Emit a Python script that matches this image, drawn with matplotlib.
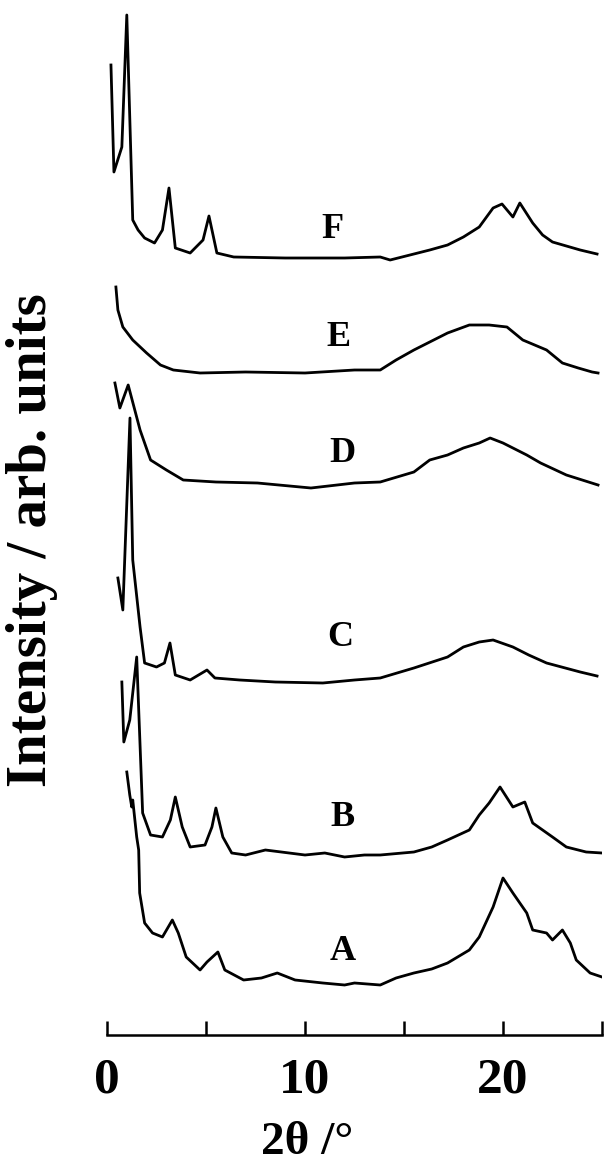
import matplotlib.pyplot as plt

# XRD patterns (2theta in deg, intensity in arb. units incl. stacking offset)
tt_A = [1.0, 1.15, 1.25, 1.3, 1.5, 1.6, 1.65, 1.9, 2.3, 2.8, 3.3, 3.6, 4.0, 4.7, 5.05, 5.6, 5.95, 6.9,
        7.8, 8.6, 9.5, 10.9, 12.0, 12.5, 13.8, 14.6, 15.5, 16.4, 17.2, 18.3, 18.8, 19.5, 20.0, 20.5,
        21.2, 21.5, 22.2, 22.5, 23.0, 23.4, 23.7, 24.4, 25.0]
int_A = [263, 240, 228, 235, 198, 185, 142, 112, 102, 98, 115, 102, 78, 65, 73, 83, 65, 55,
         57, 62, 55, 52, 50, 52, 50, 57, 62, 66, 72, 85, 98, 128, 157, 142,
         122, 105, 102, 95, 105, 92, 75, 62, 58]

tt_B = [0.75, 0.85, 1.15, 1.5, 1.8, 2.2, 2.8, 3.2, 3.45, 3.8, 4.2, 4.95, 5.3, 5.5, 5.85, 6.3,
        7.0, 8.0, 9.2, 10.0, 11.0, 12.0, 13.0, 13.8, 15.5, 16.4, 17.2, 18.3, 18.8, 19.3, 19.85,
        20.5, 21.1, 21.5, 22.5, 23.2, 24.2, 25.0]
int_B = [353, 293, 315, 378, 222, 200, 198, 215, 238, 208, 188, 190, 208, 227, 198, 182,
         180, 185, 182, 180, 182, 178, 180, 180, 183, 188, 195, 205, 220, 232, 248,
         228, 233, 212, 198, 188, 183, 182]

tt_C = [0.55, 0.8, 1.16, 1.3, 1.67, 1.9, 2.5, 2.9, 3.18, 3.45, 4.2, 5.05, 5.45, 6.7,
        8.5, 10.9, 12.5, 13.8, 15.5, 17.2, 18.0, 18.8, 19.5, 20.5, 21.3, 22.2, 23.9, 24.75]
int_C = [457, 425, 617, 475, 408, 372, 368, 372, 392, 360, 355, 365, 357, 355,
         353, 352, 355, 357, 367, 378, 388, 393, 395, 388, 380, 372, 363, 359]

tt_D = [0.4, 0.65, 1.07, 1.67, 2.2, 3.0, 3.85, 5.5, 7.6, 10.3, 12.5, 13.8, 15.5, 16.3,
        17.2, 18.0, 18.8, 19.35, 20.0, 20.5, 21.2, 21.9, 23.2, 24.8]
int_D = [652, 627, 650, 605, 575, 565, 555, 553, 552, 547, 552, 553, 563, 575,
         580, 587, 592, 597, 592, 587, 580, 572, 560, 550]

tt_E = [0.45, 0.55, 0.8, 1.3, 2.0, 2.7, 3.35, 4.7, 7.0, 10.0, 12.5, 13.8, 14.6, 15.5, 16.4,
        17.2, 18.3, 19.3, 20.2, 21.0, 21.6, 22.2, 23.0, 23.8, 24.5, 24.8]
int_E = [748, 725, 708, 695, 682, 670, 665, 662, 663, 662, 665, 665, 675, 685, 694,
         702, 710, 710, 708, 695, 690, 685, 672, 667, 663, 662]

tt_F = [0.2, 0.35, 0.75, 1.0, 1.3, 1.57, 1.9, 2.4, 2.8, 3.13, 3.45, 4.2, 4.85, 5.15, 5.55,
        6.4, 9.0, 12.0, 13.8, 14.3, 15.3, 16.3, 17.2, 18.0, 18.8, 19.5, 19.95, 20.5, 20.85,
        21.5, 22.0, 22.5, 23.2, 23.9, 24.75]
int_F = [970, 863, 888, 1020, 815, 805, 797, 792, 805, 847, 787, 782, 795, 819, 782,
         778, 777, 777, 778, 775, 780, 785, 790, 798, 808, 827, 831, 818, 832,
         812, 800, 793, 789, 785, 781]

labels = ['A', 'B', 'C', 'D', 'E', 'F']
label_tt = [11.9, 11.9, 11.8, 11.9, 11.7, 11.4]
label_int = [83, 218, 398, 582, 698, 805]

serif = 'Liberation Serif'

fig = plt.figure(figsize=(6.04, 11.73), dpi=100)
ax = fig.add_axes([107 / 604, 138 / 1173, 495 / 604, 1 - 138 / 1173])

for tt, inten in [(tt_A, int_A), (tt_B, int_B), (tt_C, int_C),
                  (tt_D, int_D), (tt_E, int_E), (tt_F, int_F)]:
    ax.plot(tt, inten, color='black', linewidth=2.0)

for lab, x, y in zip(labels, label_tt, label_int):
    ax.text(x, y, lab, fontsize=26, fontweight='bold', family=serif,
            ha='center', va='center')

ax.set_xlim(0, 25)
ax.set_ylim(0, 1035)
ax.set_xticks([0, 5, 10, 15, 20, 25])
ax.set_xticklabels(['0', '', '10', '', '20', ''])
ax.set_yticks([])
for side in ['left', 'right', 'top']:
    ax.spines[side].set_visible(False)
ax.spines['bottom'].set_linewidth(1.8)
ax.tick_params(axis='x', direction='in', length=10, width=1.8, pad=16)
for t in ax.get_xticklabels():
    t.set_fontsize(37)
    t.set_fontweight('bold')
    t.set_family(serif)

fig.text(307 / 604, 1 - 1143 / 1173, '2θ /°', fontsize=34, fontweight='bold',
         family=serif, ha='center', va='center')
fig.text(32 / 604, 1 - 540 / 1173, 'Intensity / arb. units', fontsize=41,
         fontweight='bold', family=serif, rotation=90, ha='center', va='center')

fig.savefig('out.png', dpi=100)
